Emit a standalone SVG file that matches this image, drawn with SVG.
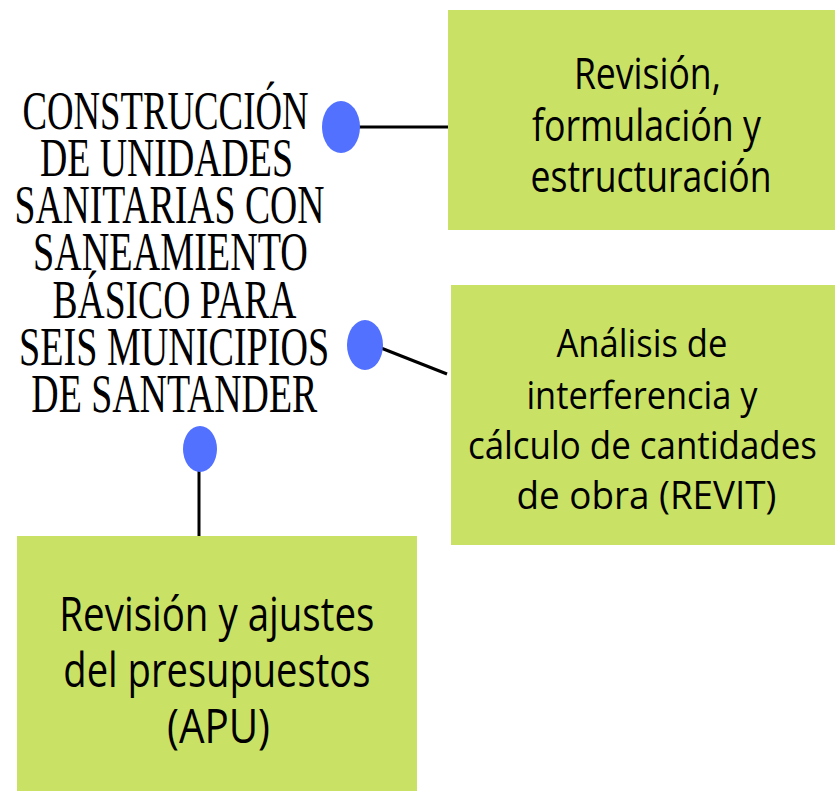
<svg xmlns="http://www.w3.org/2000/svg" width="835" height="791" viewBox="0 0 835 791">
<style>
.box{fill:#c9e265;}
.dot{fill:#5271ff;}
.ln{stroke:#000;stroke-width:3;fill:none;}
.title{font-family:"Liberation Serif","DejaVu Serif",serif;font-size:54px;fill:#000;text-anchor:middle;}
.lbl{font-family:"Open Sans","Noto Sans","DejaVu Sans",sans-serif;fill:#000;text-anchor:middle;}
</style>
<rect width="835" height="791" fill="#fff"/>
<g id="connectors">
<line class="ln" x1="358" y1="127" x2="448" y2="127"/>
<line class="ln" x1="381" y1="348" x2="447" y2="374"/>
<line class="ln" x1="199" y1="470" x2="199" y2="536"/>
</g>
<g id="title">
<text class="title" transform="scale(0.72 1)">
<tspan x="236.6" y="129" textLength="397.2" lengthAdjust="spacingAndGlyphs">CONSTRUCCIÓN</tspan>
<tspan x="237.9" y="176" textLength="351.4" lengthAdjust="spacingAndGlyphs">DE UNIDADES</tspan>
<tspan x="242.1" y="223" textLength="430.6" lengthAdjust="spacingAndGlyphs">SANITARIAS CON</tspan>
<tspan x="243.5" y="270" textLength="381.9" lengthAdjust="spacingAndGlyphs">SANEAMIENTO</tspan>
<tspan x="249.1" y="318" textLength="338.9" lengthAdjust="spacingAndGlyphs">BÁSICO PARA</tspan>
<tspan x="248.6" y="365" textLength="430.6" lengthAdjust="spacingAndGlyphs">SEIS MUNICIPIOS</tspan>
<tspan x="242.1" y="412" textLength="397.2" lengthAdjust="spacingAndGlyphs">DE SANTANDER</tspan>
</text>
</g>
<g id="dot1"><ellipse class="dot" cx="341" cy="127" rx="19" ry="26"/></g>
<g id="dot2"><ellipse class="dot" cx="365" cy="345" rx="18" ry="25"/></g>
<g id="dot3"><ellipse class="dot" cx="200" cy="449" rx="17" ry="23"/></g>
<g id="node1">
<rect class="box" x="448" y="10" width="387" height="220"/>
<text class="lbl" style="font-size:43px" transform="scale(0.82 1)">
<tspan x="795.1" y="89" textLength="179.3" lengthAdjust="spacingAndGlyphs">Revisión,</tspan>
<tspan x="793.9" y="141" textLength="279.3" lengthAdjust="spacingAndGlyphs">formulación y</tspan>
<tspan x="793.9" y="192" textLength="293.9" lengthAdjust="spacingAndGlyphs">estructuración</tspan>
</text>
</g>
<g id="node2">
<rect class="box" x="451" y="285" width="384" height="260"/>
<text class="lbl" style="font-size:38px" transform="scale(0.82 1)">
<tspan x="787.8" y="357" textLength="208.5" lengthAdjust="spacingAndGlyphs">Análisis de</tspan>
<tspan x="787.8" y="409" textLength="281.7" lengthAdjust="spacingAndGlyphs">interferencia y</tspan>
<tspan x="788.4" y="459" textLength="425.6" lengthAdjust="spacingAndGlyphs">cálculo de cantidades</tspan>
<tspan x="788.4" y="509" textLength="317.1" lengthAdjust="spacingAndGlyphs">de obra (REVIT)</tspan>
</text>
</g>
<g id="node3">
<rect class="box" x="17" y="536" width="400" height="255"/>
<text class="lbl" style="font-size:48px" transform="scale(0.82 1)">
<tspan x="270.7" y="631" textLength="384.1" lengthAdjust="spacingAndGlyphs">Revisión y ajustes</tspan>
<tspan x="270.7" y="687" textLength="374.4" lengthAdjust="spacingAndGlyphs">del presupuestos</tspan>
<tspan x="266.5" y="743" textLength="125.6" lengthAdjust="spacingAndGlyphs">(APU)</tspan>
</text>
</g>
</svg>
